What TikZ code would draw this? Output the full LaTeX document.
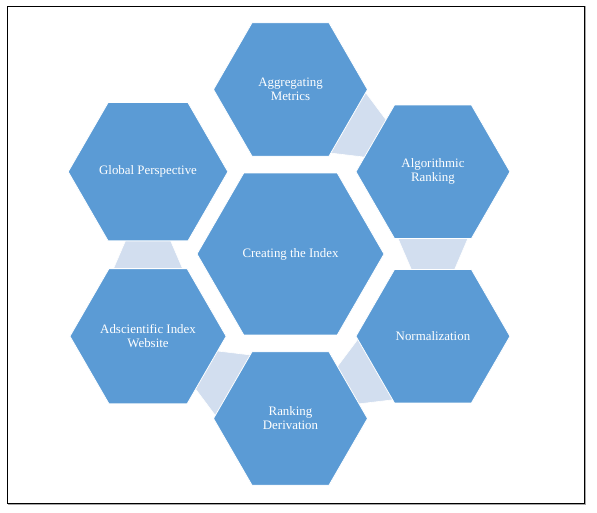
\documentclass[tikz,border=0pt]{standalone}
\usepackage{fontspec}
\setmainfont{Liberation Serif}
\usepackage{xcolor}
\usepackage{tikz}
\usetikzlibrary{positioning, calc, shapes.geometric}
\definecolor{hexblue}{HTML}{5B9BD5}
\definecolor{linkblue}{HTML}{D2DEEF}
\pgfdeclarelayer{bg}
\pgfsetlayers{bg,main}

\begin{document}
\begin{tikzpicture}[x=1pt, y=1pt,
  hexbox/.style={regular polygon, regular polygon sides=6, fill=hexblue, draw=white,
    line width=0.8pt, minimum size=154pt, inner sep=0pt, text=white, align=center,
    font=\fontsize{12.9}{14}\selectfont},
  bighex/.style={hexbox, minimum size=187pt},
  link/.style={fill=linkblue, draw=white, line width=0.6pt}]
  \useasboundingbox (0,0) rectangle (597,512);
  % Frame
  \draw[gray!70, line width=1.2pt] (585.5,506) -- (585.5,7.6) -- (8,7.6);
  \draw[line width=0.9pt] (7,506) rectangle (584.5,8.5);
  % Hexagons
  \node[bighex] (ctr) at (290.5,258) {Creating the Index};
  \node[hexbox] (agg) at ($(ctr)+(90:164.5)$) {Aggregating\\Metrics};
  \node[hexbox] (alg) at ($(ctr)+(30:164.5)$) {Algorithmic\\Ranking};
  \node[hexbox] (norm) at ($(ctr)+(-30:164.5)$) {Normalization};
  \node[hexbox] (rank) at ($(ctr)+(-90:164.5)$) {Ranking\\Derivation};
  \node[hexbox] (adsci) at ($(ctr)+(210:164.5)$) {Adscientific Index\\Website};
  \node[hexbox] (glob) at ($(ctr)+(150:164.5)$) {Global Perspective};
  % Links, behind the hexagons
  \begin{pgfonlayer}{bg}
    \draw[link] ($(agg)!60pt!(alg)!37.8pt!90:(alg)$) -- ($(agg)!105pt!(alg)!18.5pt!90:(alg)$)
      -- ($(agg)!105pt!(alg)!18.5pt!-90:(alg)$) -- ($(agg)!60pt!(alg)!37.8pt!-90:(alg)$) -- cycle;
    \draw[link] ($(alg)!60pt!(norm)!37.8pt!90:(norm)$) -- ($(alg)!105pt!(norm)!18.5pt!90:(norm)$)
      -- ($(alg)!105pt!(norm)!18.5pt!-90:(norm)$) -- ($(alg)!60pt!(norm)!37.8pt!-90:(norm)$) -- cycle;
    \draw[link] ($(norm)!60pt!(rank)!37.8pt!90:(rank)$) -- ($(norm)!105pt!(rank)!18.5pt!90:(rank)$)
      -- ($(norm)!105pt!(rank)!18.5pt!-90:(rank)$) -- ($(norm)!60pt!(rank)!37.8pt!-90:(rank)$) -- cycle;
    \draw[link] ($(rank)!60pt!(adsci)!37.8pt!90:(adsci)$) -- ($(rank)!105pt!(adsci)!18.5pt!90:(adsci)$)
      -- ($(rank)!105pt!(adsci)!18.5pt!-90:(adsci)$) -- ($(rank)!60pt!(adsci)!37.8pt!-90:(adsci)$) -- cycle;
    \draw[link] ($(adsci)!60pt!(glob)!37.8pt!90:(glob)$) -- ($(adsci)!105pt!(glob)!18.5pt!90:(glob)$)
      -- ($(adsci)!105pt!(glob)!18.5pt!-90:(glob)$) -- ($(adsci)!60pt!(glob)!37.8pt!-90:(glob)$) -- cycle;
  \end{pgfonlayer}
\end{tikzpicture}
\end{document}
